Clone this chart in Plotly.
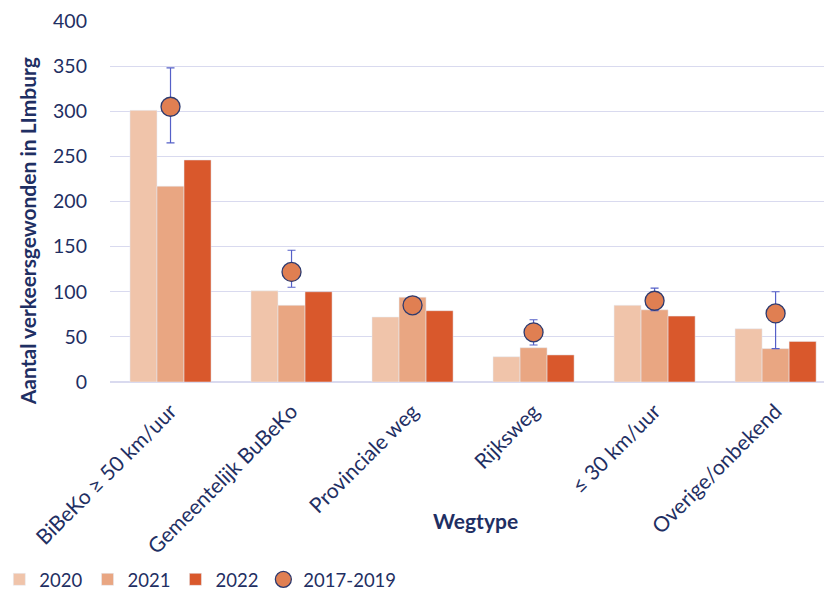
import plotly.graph_objects as go

categories = ["BiBeKo ≥ 50 km/uur", "Gemeentelijk BuBeKo", "Provinciale weg",
              "Rijksweg", "≤ 30 km/uur", "Overige/onbekend"]
v2020 = [301, 101, 72, 28, 85, 59]
v2021 = [217, 85, 94, 38, 80, 37]
v2022 = [246, 100, 79, 30, 73, 45]
avg_2017_2019 = [305, 122, 85, 55, 90, 76]
err_hi = [348, 146, 88, 69, 104, 100]
err_lo = [265, 105, 82, 41, 79, 37]

navy = "#1F2F63"
font_family = "Lato, 'Open Sans', sans-serif"

fig = go.Figure()
fig.add_trace(go.Bar(name="2020", x=categories, y=v2020, marker_color="#F0C4AA"))
fig.add_trace(go.Bar(name="2021", x=categories, y=v2021, marker_color="#E9A682"))
fig.add_trace(go.Bar(name="2022", x=categories, y=v2022, marker_color="#D9582C"))
fig.add_trace(go.Scatter(
    name="2017-2019", x=categories, y=avg_2017_2019, mode="markers",
    marker=dict(size=19, color="#E07F52", line=dict(color="#2E3A6E", width=1.3)),
    error_y=dict(type="data", symmetric=False,
                 array=[h - v for h, v in zip(err_hi, avg_2017_2019)],
                 arrayminus=[v - l for l, v in zip(err_lo, avg_2017_2019)],
                 color="#5560C8", thickness=1.2, width=4),
))

fig.update_layout(
    width=824, height=590,
    margin=dict(l=110, r=0, t=21, b=208, autoexpand=False),
    barmode="group", bargap=0.33, bargroupgap=0,
    plot_bgcolor="white", paper_bgcolor="white",
    font=dict(family=font_family, color=navy, size=19),
    legend=dict(orientation="h", x=-0.155, xanchor="left", y=-0.548, yanchor="middle",
                font=dict(size=18.5, color=navy), itemwidth=30,
                traceorder="normal"),
    showlegend=True,
)
fig.update_xaxes(range=[-0.5, 5.4], tickangle=-45, tickfont=dict(size=21, color=navy),
                 showline=False, ticks="", automargin=False, ticklabelstandoff=12)
fig.update_yaxes(range=[0, 400], dtick=50, gridcolor="#D9DAEF", gridwidth=1.2,
                 tickfont=dict(size=19.5, color=navy), zeroline=True,
                 zerolinecolor="#D9DAEF", zerolinewidth=1.5, ticks="",
                 ticklabelstandoff=22, automargin=False)

fig.add_annotation(text="<b>Wegtype</b>", xref="paper", yref="paper",
                   x=0.512, y=-0.385, xanchor="center", yanchor="middle",
                   showarrow=False, font=dict(size=21, color=navy))
fig.add_annotation(text="<b>Aantal verkeersgewonden in LImburg</b>", xref="paper",
                   yref="paper", x=-0.116, y=0.418, xanchor="center", yanchor="middle",
                   textangle=-90, showarrow=False, font=dict(size=21, color=navy))

fig.write_html("out.html")
